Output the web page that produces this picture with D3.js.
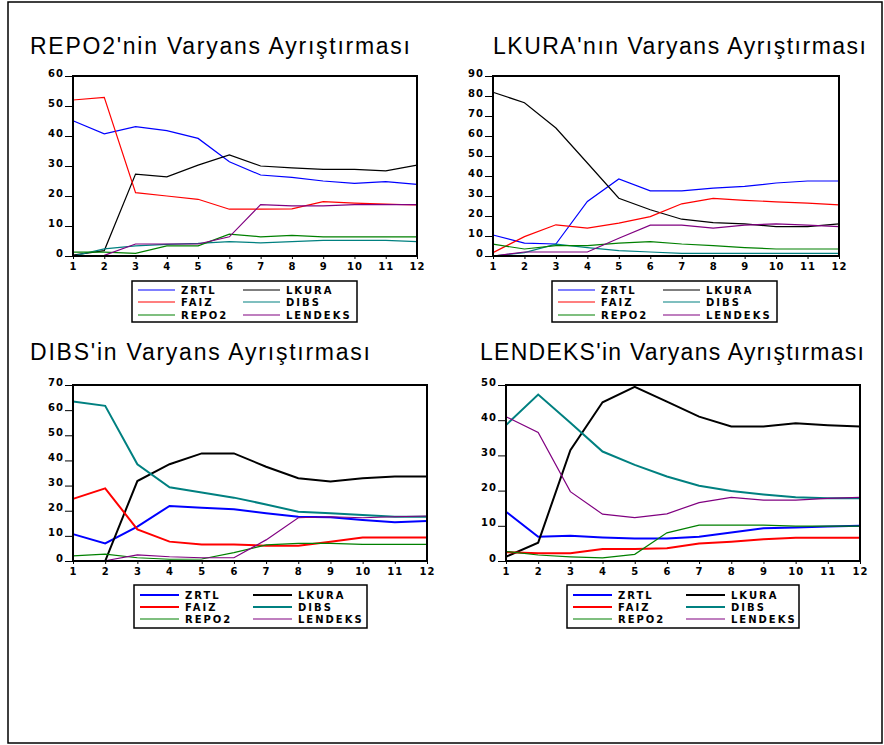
<!DOCTYPE html>
<html>
<head>
<meta charset="utf-8">
<title>Varyans Ayrıştırması</title>
<script src="https://d3js.org/d3.v7.min.js"></script>
<style>
  body { margin: 0; background: #fff; }
  .title { font-family: 'Liberation Sans', Arial, sans-serif; font-size: 23px; fill: #000; }
  .tick-label { font-family: 'DejaVu Sans', sans-serif; font-size: 10px; font-weight: bold; fill: #000; letter-spacing: 1px; }
  .legend-label { font-family: 'DejaVu Sans', sans-serif; font-size: 10px; font-weight: bold; fill: #000; letter-spacing: 2px; }
</style>
</head>
<body>
<svg id="chart" width="884" height="745"></svg>
<script>
// horizon (periods) and series
const periods = [1, 2, 3, 4, 5, 6, 7, 8, 9, 10, 11, 12];
const seriesNames = ['ZRTL', 'LKURA', 'FAIZ', 'DIBS', 'REPO2', 'LENDEKS'];
const seriesColors = ['#0000ff', '#000000', '#ff0000', '#008080', '#008000', '#800080'];

const titles = [
  "REPO2'nin Varyans Ayrıştırması",
  "LKURA'nın Varyans Ayrıştırması",
  "DIBS'in Varyans Ayrıştırması",
  "LENDEKS'in Varyans Ayrıştırması"
];
const yMaxes = [60, 90, 70, 50];

// REPO2 decomposition
const repoZRTL    = [45.1, 40.7, 43.1, 41.8, 39.2, 31.4, 27.0, 26.2, 25.0, 24.2, 24.8, 23.9];
const repoLKURA   = [0.3, 1.8, 27.3, 26.4, 30.3, 33.7, 30.0, 29.4, 28.9, 28.9, 28.4, 30.3];
const repoFAIZ    = [52.0, 52.9, 21.1, 20.0, 18.9, 15.6, 15.6, 15.7, 18.1, 17.6, 17.3, 17.0];
const repoDIBS    = [0.0, 2.4, 3.4, 3.9, 4.2, 4.8, 4.4, 4.8, 5.2, 5.2, 5.2, 4.8];
const repoREPO2   = [1.3, 1.3, 0.9, 3.4, 3.4, 7.3, 6.4, 6.9, 6.4, 6.4, 6.4, 6.4];
const repoLENDEKS = [0.0, 0.2, 4.0, 4.0, 4.0, 6.4, 17.1, 16.7, 16.7, 17.1, 17.1, 17.1];

// LKURA decomposition
const lkuraZRTL    = [10.5, 6.4, 6.0, 27.3, 38.5, 32.6, 32.6, 33.9, 34.8, 36.5, 37.5, 37.5];
const lkuraLKURA   = [81.9, 76.6, 64.0, 46.5, 28.9, 23.1, 18.4, 16.7, 16.1, 14.7, 14.7, 16.1];
const lkuraFAIZ    = [1.7, 9.7, 15.6, 13.9, 16.4, 19.7, 26.1, 28.8, 27.8, 27.1, 26.4, 25.6];
const lkuraDIBS    = [0.0, 1.7, 5.9, 4.2, 2.7, 2.0, 1.3, 1.3, 1.3, 1.3, 1.3, 1.3];
const lkuraREPO2   = [5.9, 3.5, 5.2, 5.2, 6.4, 7.2, 6.0, 5.2, 4.2, 3.5, 3.5, 3.5];
const lkuraLENDEKS = [0.0, 2.0, 2.0, 2.0, 8.9, 15.4, 15.4, 13.9, 15.4, 16.1, 15.4, 14.7];

// DIBS decomposition
const dibsZRTL    = [10.7, 7.0, 13.7, 21.9, 21.2, 20.6, 19.0, 17.6, 17.4, 16.3, 15.4, 15.9];
const dibsLKURA   = [0.0, 0.0, 31.8, 38.5, 42.8, 42.8, 37.5, 32.9, 31.6, 32.9, 33.6, 33.6];
const dibsFAIZ    = [24.7, 28.9, 12.6, 7.7, 6.6, 6.6, 6.1, 6.1, 7.7, 9.3, 9.3, 9.3];
const dibsDIBS    = [63.4, 61.7, 38.5, 29.3, 27.2, 25.2, 22.5, 19.6, 19.0, 18.3, 17.6, 17.6];
const dibsREPO2   = [2.0, 2.7, 1.3, 0.7, 0.8, 3.3, 6.4, 7.0, 7.0, 6.6, 6.6, 6.6];
const dibsLENDEKS = [0.1, 0.1, 2.4, 1.7, 1.3, 1.3, 8.4, 17.2, 17.6, 17.2, 17.6, 17.9];

// LENDEKS decomposition
const lendZRTL    = [14.0, 6.9, 7.2, 6.7, 6.4, 6.4, 6.9, 8.1, 9.3, 9.5, 9.8, 10.0];
const lendLKURA   = [1.2, 5.2, 31.5, 45.1, 49.5, 45.3, 41.0, 38.2, 38.2, 39.1, 38.6, 38.2];
const lendFAIZ    = [2.5, 2.2, 2.2, 3.4, 3.4, 3.6, 5.0, 5.5, 6.2, 6.6, 6.6, 6.6];
const lendDIBS    = [38.6, 47.3, 39.3, 31.1, 27.3, 24.0, 21.4, 19.9, 18.9, 18.1, 17.8, 17.8];
const lendREPO2   = [2.7, 1.7, 1.2, 0.9, 1.9, 8.0, 10.2, 10.2, 10.2, 9.9, 9.9, 9.9];
const lendLENDEKS = [41.0, 36.5, 19.7, 13.3, 12.3, 13.4, 16.6, 18.1, 17.3, 17.3, 17.8, 18.1];

const panelSeries = [
  [repoZRTL, repoLKURA, repoFAIZ, repoDIBS, repoREPO2, repoLENDEKS],
  [lkuraZRTL, lkuraLKURA, lkuraFAIZ, lkuraDIBS, lkuraREPO2, lkuraLENDEKS],
  [dibsZRTL, dibsLKURA, dibsFAIZ, dibsDIBS, dibsREPO2, dibsLENDEKS],
  [lendZRTL, lendLKURA, lendFAIZ, lendDIBS, lendREPO2, lendLENDEKS]
];

// layout of the four panels (plot box, title, legend box)
const layout = [
  { x0: 73,  x1: 417, y0: 76,  y1: 256, tx: 30,  tw: 380, ty: 54,  lx: 132, lw: 225, ly: 281, lh: 41, thick: false },
  { x0: 493, x1: 839, y0: 76,  y1: 256, tx: 493, tw: 373, ty: 54,  lx: 552, lw: 225, ly: 281, lh: 41, thick: false },
  { x0: 73,  x1: 427, y0: 385, y1: 561, tx: 30,  tw: 340, ty: 360, lx: 134, lw: 233, ly: 585, lh: 43, thick: true },
  { x0: 506, x1: 860, y0: 385, y1: 561, tx: 480, tw: 384, ty: 360, lx: 567, lw: 232, ly: 585, lh: 43, thick: true }
];

const svg = d3.select('#chart');

// outer frame
svg.append('rect')
  .attr('x', 8).attr('y', 2)
  .attr('width', 874).attr('height', 741)
  .attr('fill', 'none')
  .attr('stroke', '#000')
  .attr('stroke-width', 1.5);

layout.forEach(function (p, i) {
  const g = svg.append('g');

  const x = d3.scaleLinear().domain([1, 12]).range([p.x0, p.x1]);
  const y = d3.scaleLinear().domain([0, yMaxes[i]]).range([p.y1, p.y0]);

  // title
  g.append('text')
    .attr('class', 'title')
    .attr('x', p.tx)
    .attr('y', p.ty)
    .attr('textLength', p.tw)
    .attr('lengthAdjust', 'spacing')
    .text(titles[i]);

  // y axis
  const yAxis = g.append('g')
    .attr('transform', `translate(${p.x0},0)`)
    .call(d3.axisLeft(y).tickValues(d3.range(0, yMaxes[i] + 1, 10)).tickSize(8).tickPadding(2));
  yAxis.select('.domain').remove();
  yAxis.selectAll('.tick line').attr('stroke', '#000').attr('stroke-width', 1);
  yAxis.selectAll('.tick text')
    .attr('class', 'tick-label')
    .attr('dy', null)
    .attr('y', 0)
    .attr('x', -9)
    .attr('font-family', null).attr('font-size', null);

  // x axis
  const xAxis = g.append('g')
    .attr('transform', `translate(0,${p.y1})`)
    .call(d3.axisBottom(x).tickValues(periods).tickFormat(d3.format('d')).tickSize(3).tickPadding(4));
  xAxis.select('.domain').remove();
  xAxis.selectAll('.tick line').attr('stroke', '#000');
  xAxis.selectAll('.tick text')
    .attr('class', 'tick-label')
    .attr('font-family', null).attr('font-size', null);

  // series lines
  const line = d3.line()
    .x(function (d, k) { return x(periods[k]); })
    .y(function (d) { return y(d); });

  panelSeries[i].forEach(function (vals, s) {
    const heavy = p.thick && s < 4;
    g.append('path')
      .datum(vals)
      .attr('fill', 'none')
      .attr('stroke', seriesColors[s])
      .attr('stroke-width', heavy ? 2 : 1.2)
      .attr('stroke-linejoin', 'miter')
      .attr('d', line);
  });

  // plot box on top
  g.append('rect')
    .attr('x', p.x0).attr('y', p.y0)
    .attr('width', p.x1 - p.x0).attr('height', p.y1 - p.y0)
    .attr('fill', 'none')
    .attr('stroke', '#000')
    .attr('stroke-width', 2);

  // legend
  const lg = g.append('g').attr('transform', `translate(${p.lx},${p.ly})`);
  lg.append('rect')
    .attr('width', p.lw).attr('height', p.lh)
    .attr('fill', '#fff')
    .attr('stroke', '#000')
    .attr('stroke-width', 1.5);

  const colW = p.thick ? 113 : 105;
  const rowY = p.thick ? [10, 22, 34] : [9, 21, 34];
  seriesNames.forEach(function (name, s) {
    const col = s % 2;
    const row = Math.floor(s / 2);
    const ox = 6 + col * colW;
    const heavy = p.thick && s < 4;
    lg.append('line')
      .attr('x1', ox).attr('x2', ox + (p.thick ? 39 : 37))
      .attr('y1', rowY[row]).attr('y2', rowY[row])
      .attr('stroke', seriesColors[s])
      .attr('stroke-width', heavy ? 2 : 1.2);
    lg.append('text')
      .attr('class', 'legend-label')
      .attr('x', ox + (p.thick ? 45 : 43))
      .attr('y', rowY[row] + 4)
      .text(name);
  });
});
</script>
</body>
</html>
